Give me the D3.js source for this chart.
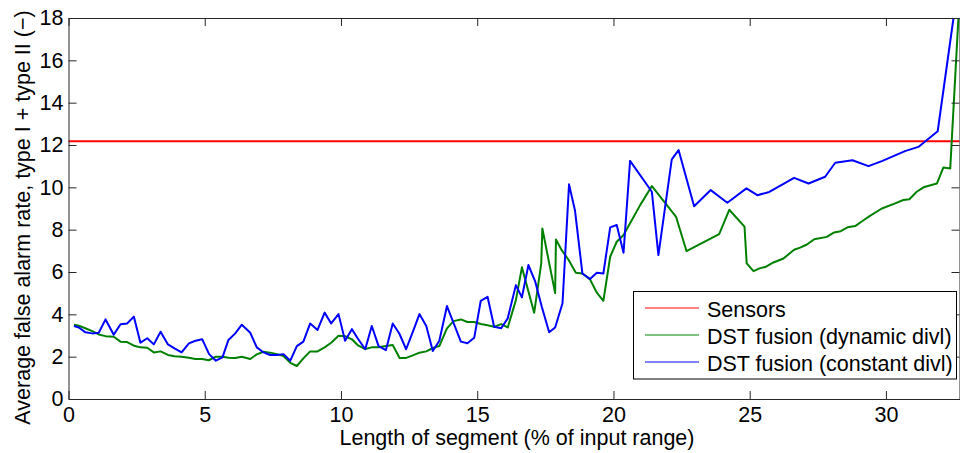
<!DOCTYPE html>
<html>
<head>
<meta charset="utf-8">
<script src="https://cdn.jsdelivr.net/npm/d3@7"></script>
<style>
  html, body { margin: 0; padding: 0; background: #fff; }
  svg { display: block; }
  text { font-family: "Liberation Sans", Arial, sans-serif; fill: #000; }
</style>
</head>
<body>
<svg id="chart" width="960" height="453"></svg>
<script>
// ---- data ----
const xTicks = [0, 5, 10, 15, 20, 25, 30];
const yTicks = [0, 2, 4, 6, 8, 10, 12, 14, 16, 18];

const sensorsValue = 12.18;

const dynamicX = [0.20,0.38,0.62,0.87,1.11,1.36,1.66,1.91,2.15,2.40,2.64,2.89,3.13,3.38,3.65,3.89,4.15,4.42,4.66,4.91,
  5.15,5.41,5.65,5.87,6.12,6.36,6.67,6.91,7.16,7.40,7.65,7.89,8.14,8.38,8.62,8.87,9.14,9.40,9.64,9.91,
  10.15,10.40,10.61,10.89,11.13,11.38,11.65,11.90,12.15,12.39,12.64,12.88,13.13,13.37,13.61,13.89,14.13,14.40,14.64,14.89,
  15.13,15.38,15.62,15.88,16.12,16.42,16.64,17.09,17.35,17.39,17.86,17.89,18.10,18.35,18.62,18.86,19.14,19.39,19.63,19.88,
  20.12,20.37,20.61,20.98,21.41,22.30,22.68,23.88,24.25,24.81,24.89,25.14,25.36,25.60,25.87,26.24,26.63,26.85,27.10,27.37,
  27.83,28.10,28.34,28.59,28.87,29.15,29.40,29.85,30.34,30.64,30.86,31.13,31.38,31.87,32.11,32.36,32.66];
const dynamicY = [3.51,3.46,3.34,3.21,3.05,2.97,2.94,2.71,2.69,2.52,2.44,2.42,2.20,2.25,2.08,2.02,2.00,1.95,1.89,1.89,
  1.83,2.00,2.00,1.95,1.94,2.00,1.89,2.11,2.23,2.19,2.12,2.03,1.71,1.56,1.92,2.25,2.25,2.44,2.66,2.99,
  2.97,2.82,2.55,2.36,2.44,2.44,2.50,2.55,1.94,1.94,2.06,2.19,2.25,2.41,2.50,3.34,3.68,3.76,3.64,3.64,
  3.54,3.48,3.41,3.54,3.38,4.67,6.22,4.07,6.41,8.06,5.00,7.54,7.03,6.58,5.96,5.93,5.65,5.02,4.64,6.72,
  7.43,7.75,8.30,9.16,10.06,8.60,6.99,7.79,8.94,8.14,6.41,6.04,6.17,6.25,6.45,6.64,7.05,7.15,7.30,7.55,
  7.66,7.87,7.93,8.11,8.17,8.42,8.64,9.00,9.24,9.40,9.44,9.79,10.00,10.18,10.94,10.89,18.00];

const constantX = [0.20,0.38,0.62,0.87,1.11,1.36,1.66,1.91,2.15,2.40,2.64,2.89,3.13,3.38,3.65,3.89,4.15,4.42,4.66,4.91,
  5.16,5.41,5.65,5.87,6.12,6.36,6.67,6.91,7.16,7.40,7.65,7.89,8.14,8.38,8.62,8.87,9.14,9.40,9.64,9.91,
  10.15,10.40,10.61,10.89,11.13,11.38,11.65,11.90,12.15,12.39,12.64,12.88,13.13,13.37,13.61,13.89,14.13,14.40,14.64,14.89,
  15.13,15.38,15.62,15.88,16.12,16.42,16.64,16.88,17.13,17.37,17.64,17.86,18.13,18.37,18.59,18.86,19.14,19.39,19.63,19.88,
  20.12,20.37,20.61,21.41,21.65,22.14,22.39,22.96,23.57,24.18,24.88,25.28,25.72,26.63,27.16,27.77,28.14,28.77,29.36,29.85,
  30.70,31.19,31.90,32.48];
const constantY = [3.45,3.38,3.15,3.10,3.13,3.76,3.04,3.53,3.57,3.89,2.66,2.87,2.58,3.18,2.58,2.39,2.20,2.63,2.75,2.82,
  2.12,1.81,1.97,2.79,3.10,3.51,3.13,2.44,2.20,2.08,2.08,2.12,1.81,2.50,2.71,3.57,3.26,4.08,3.57,4.01,
  2.75,3.30,2.87,2.35,3.45,2.50,2.31,3.57,3.07,2.35,3.18,4.01,3.45,2.27,2.75,4.39,3.60,2.71,2.63,2.89,
  4.64,4.83,3.41,3.34,3.81,5.38,4.80,6.33,5.54,4.36,3.15,3.38,4.52,10.14,8.89,5.93,5.67,5.96,5.93,8.11,
  8.22,6.91,11.25,9.79,6.80,11.32,11.76,9.11,9.87,9.27,9.95,9.63,9.78,10.45,10.18,10.50,11.16,11.28,11.00,11.24,
  11.71,11.91,12.65,18.00];

const seriesNames = ["Sensors", "DST fusion (dynamic divl)", "DST fusion (constant divl)"];
const seriesColors = ["#ff0000", "#008000", "#0000ff"];

// ---- layout ----
const svg = d3.select("#chart");
const mLeft = 68.5, mRight = 959.5, mTop = 18, mBottom = 399;
const x = d3.scaleLinear().domain([0, 32.7]).range([mLeft, mRight]);
const y = d3.scaleLinear().domain([0, 18]).range([mBottom, mTop]);
const axisColor = "#262626";
const tickLen = 8;
const fontSize = 21.5;

// data lines
const line = d3.line().x(d => x(d[0])).y(d => y(d[1]));
const g = svg.append("g");

g.append("path")
  .datum([[0, sensorsValue], [32.7, sensorsValue]])
  .attr("d", line).attr("fill", "none")
  .attr("stroke", seriesColors[0]).attr("stroke-width", 2);

g.append("path")
  .datum(dynamicX.map((v, i) => [v, dynamicY[i]]))
  .attr("d", line).attr("fill", "none")
  .attr("stroke", seriesColors[1]).attr("stroke-width", 2).attr("stroke-linejoin", "round");

g.append("path")
  .datum(constantX.map((v, i) => [v, constantY[i]]))
  .attr("d", line).attr("fill", "none")
  .attr("stroke", seriesColors[2]).attr("stroke-width", 2).attr("stroke-linejoin", "round");

// axes (inward ticks, boxed)
function styleAxis(sel) {
  sel.select(".domain").attr("stroke", axisColor).attr("stroke-width", 1);
  sel.selectAll(".tick line").attr("stroke", axisColor).attr("stroke-width", 1);
  sel.selectAll("text").style("font-family", '"Liberation Sans", Arial, sans-serif')
    .style("font-size", fontSize + "px").attr("fill", "#000");
}

const xBottom = svg.append("g").attr("transform", `translate(0,${mBottom})`)
  .call(d3.axisBottom(x).tickValues(xTicks).tickSizeInner(-tickLen).tickSizeOuter(0).tickPadding(8).tickFormat(d3.format("d")));
styleAxis(xBottom);

const xTop = svg.append("g").attr("transform", `translate(0,${mTop})`)
  .call(d3.axisTop(x).tickValues(xTicks).tickSizeInner(-tickLen).tickSizeOuter(0).tickFormat(""));
styleAxis(xTop);

const yLeft = svg.append("g").attr("transform", `translate(${mLeft},0)`)
  .call(d3.axisLeft(y).tickValues(yTicks).tickSizeInner(-tickLen).tickSizeOuter(0).tickPadding(5).tickFormat(d3.format("d")));
styleAxis(yLeft);

const yRight = svg.append("g").attr("transform", `translate(${mRight},0)`)
  .call(d3.axisRight(y).tickValues(yTicks).tickSizeInner(-tickLen).tickSizeOuter(0).tickFormat(""));
styleAxis(yRight);

// axis titles
svg.append("text")
  .attr("x", (mLeft + mRight) / 2 + 3).attr("y", 445)
  .attr("text-anchor", "middle").style("font-size", fontSize + "px")
  .text("Length of segment (% of input range)");

svg.append("text")
  .attr("transform", `translate(30,${(mTop + mBottom) / 2 + 9}) rotate(-90)`)
  .attr("text-anchor", "middle").style("font-size", fontSize + "px")
  .text("Average false alarm rate, type I + type II (\u2212)");

// legend
const lg = svg.append("g");
lg.append("rect").attr("x", 633.5).attr("y", 291.5).attr("width", 323).attr("height", 87.5)
  .attr("fill", "#fff").attr("stroke", "#000").attr("stroke-width", 1);
const rowY = [308, 335, 362];
seriesNames.forEach((name, i) => {
  lg.append("line").attr("x1", 645).attr("x2", 699).attr("y1", rowY[i]).attr("y2", rowY[i])
    .attr("stroke", seriesColors[i]).attr("stroke-width", 1);
  lg.append("text").attr("x", 707).attr("y", rowY[i] + 9).style("font-size", fontSize + "px").text(name);
});
</script>
</body>
</html>
